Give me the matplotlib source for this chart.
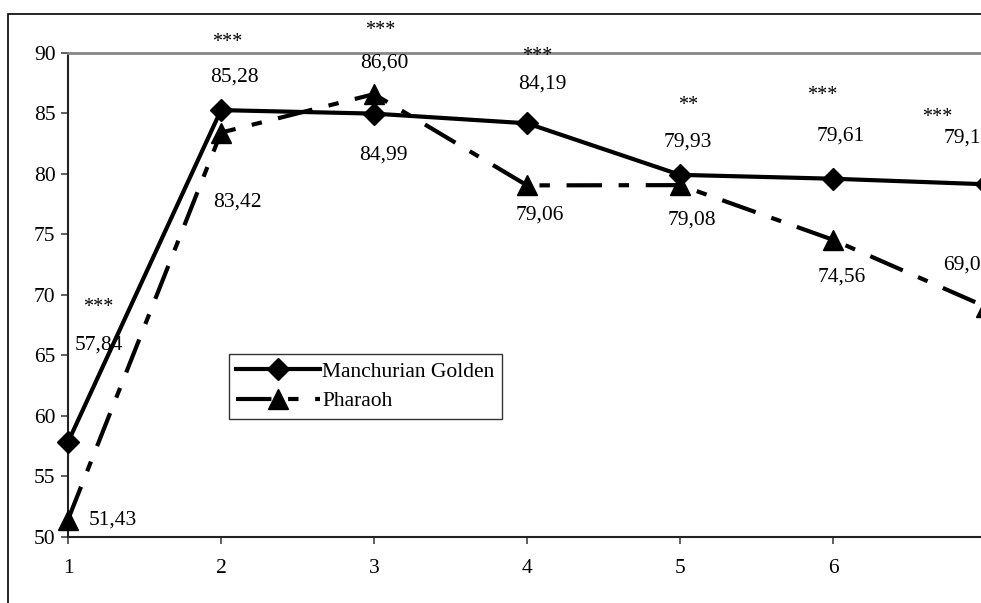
import matplotlib.pyplot as plt
from matplotlib.patches import Rectangle

plt.rcParams['font.family'] = 'Liberation Serif'

# Data
periods = [1, 2, 3, 4, 5, 6, 7]
manchurian = [57.84, 85.28, 84.99, 84.19, 79.93, 79.61, 79.15]
pharaoh = [51.43, 83.42, 86.60, 79.06, 79.08, 74.56, 69.02]
signif = ['***', '***', '***', '***', '**', '***', '***']

# label placement (x, y) in data units
mg_label_pos = [(1.20, 65.9), (2.085, 88.0), (3.06, 81.6), (4.10, 87.4),
                (5.05, 82.6), (6.05, 83.1), (6.88, 83.0)]
ph_label_pos = [(1.29, 51.4), (2.11, 77.7), (3.07, 89.2), (4.085, 76.6),
                (5.08, 76.2), (6.06, 71.5), (6.88, 72.5)]
star_pos = [(1.196, 69.0), (2.04, 90.9), (3.04, 91.9), (4.065, 89.7),
            (5.05, 85.7), (5.93, 86.5), (6.68, 84.7)]

fig = plt.figure(figsize=(9.81, 6.03), dpi=100)
ax = fig.add_axes([68 / 981, 1 - 537 / 603, 918 / 981, 484 / 603])

ax.plot(periods, manchurian, color='black', lw=3, marker='D', ms=11,
        label='Manchurian Golden', clip_on=False, zorder=3)
ax.plot(periods, pharaoh, color='black', lw=3, marker='^', ms=15,
        dashes=(8.5, 4, 2.5, 4), dash_capstyle='butt',
        label='Pharaoh', clip_on=False, zorder=3)

fmt = lambda v: f'{v:.2f}'.replace('.', ',')
for v, (x, y) in zip(manchurian, mg_label_pos):
    ax.text(x, y, fmt(v), ha='center', va='center', fontsize=15.5,
            clip_on=False)
for v, (x, y) in zip(pharaoh, ph_label_pos):
    ax.text(x, y, fmt(v), ha='center', va='center', fontsize=15.5,
            clip_on=False)
for s, (x, y) in zip(signif, star_pos):
    ax.text(x, y, s, ha='center', va='center', fontsize=14.5, clip_on=False)

ax.set_xlim(1, 7)
ax.set_ylim(50, 90)
ax.set_xticks(periods[:-1])
ax.set_yticks(range(50, 95, 5))
ax.tick_params(axis='both', labelsize=15.5, direction='out', length=5,
               width=1.2, color='#444444')
ax.tick_params(axis='x', pad=11)
ax.tick_params(axis='y', pad=4)

ax.spines['right'].set_visible(False)
ax.spines['top'].set_color('#888888')
ax.spines['top'].set_linewidth(2)
for side in ['left', 'bottom']:
    ax.spines[side].set_linewidth(1.5)
    ax.spines[side].set_color('#222222')

leg = ax.legend(loc='upper left', bbox_to_anchor=(0.175, 0.378),
                fontsize=15.5, handlelength=3.9, handletextpad=0.1,
                borderpad=0.35, labelspacing=0.45, fancybox=False,
                framealpha=1, borderaxespad=0)
leg.get_frame().set_edgecolor('#333333')
leg.get_frame().set_linewidth(1.0)

# chart area border
fig.patches.append(Rectangle((8 / 981, -0.1), 1.2, 1 - 14 / 603 + 0.1,
                             transform=fig.transFigure, fill=False,
                             edgecolor='black', lw=1.2))

fig.savefig('out.png', dpi=100)
